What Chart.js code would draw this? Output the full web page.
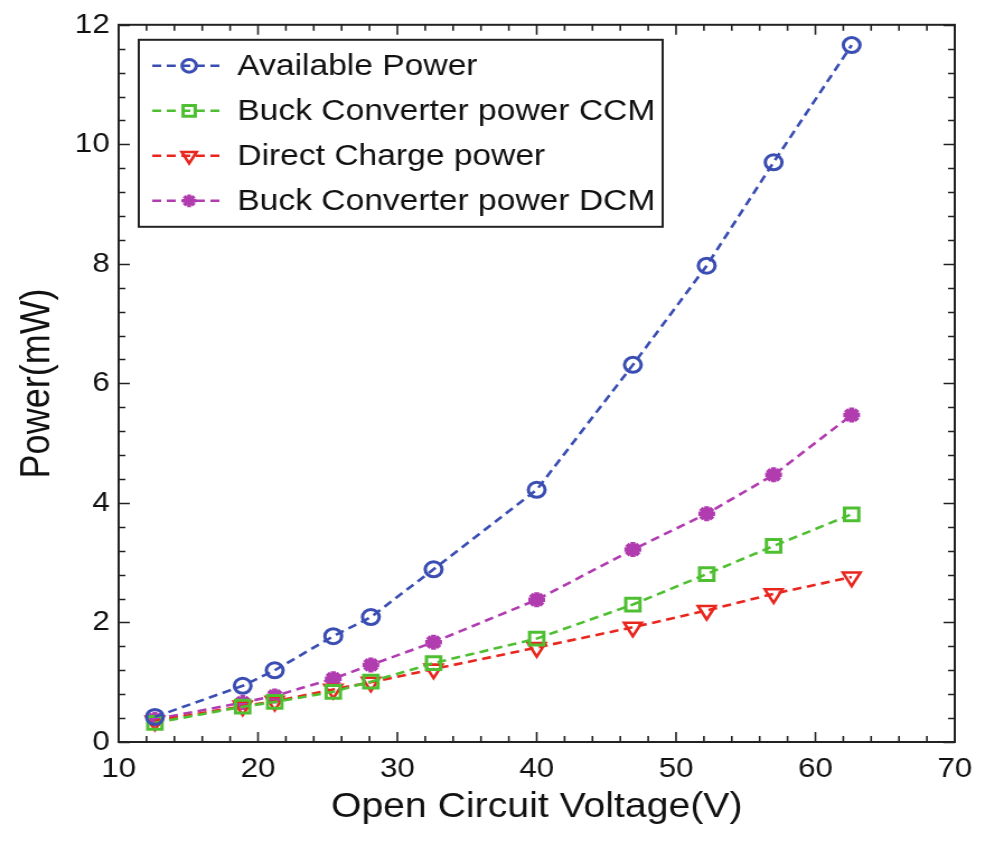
<!DOCTYPE html>
<html>
<head>
<meta charset="utf-8">
<script src="https://cdn.jsdelivr.net/npm/chart.js@4.4.1/dist/chart.umd.min.js"></script>
<style>
  html, body { margin: 0; padding: 0; background: #fff; overflow: hidden; }
  /* the original figure is a little wider than tall-drawn, so stretch horizontally */
  #wrap { width: 880px; height: 849px; position: relative; transform: scaleX(1.1193); transform-origin: 0 0; }
</style>
</head>
<body>
<div id="wrap"><canvas id="powerChart"></canvas></div>
<script>
// values
const voltage = [12.6, 18.9, 21.2, 25.4, 28.1, 32.6, 40.0, 46.9, 52.2, 57.0, 62.6];
const availablePower = [0.42, 0.94, 1.20, 1.77, 2.09, 2.89, 4.22, 6.31, 7.97, 9.70, 11.66];
const buckCCM = [0.32, 0.59, 0.67, 0.84, 1.01, 1.32, 1.73, 2.30, 2.81, 3.28, 3.81];
const directCharge = [0.35, 0.60, 0.68, 0.88, 1.00, 1.22, 1.58, 1.92, 2.20, 2.48, 2.76];
const buckDCM = [0.38, 0.66, 0.77, 1.06, 1.29, 1.67, 2.38, 3.22, 3.82, 4.47, 5.47];
const seriesLabels = ['Available Power', 'Buck Converter power CCM', 'Direct Charge power', 'Buck Converter power DCM'];
const xTicks = [10, 20, 30, 40, 50, 60, 70];
const yTicks = [0, 2, 4, 6, 8, 10, 12];

const FONT = 'Arial, "Liberation Sans", Helvetica, sans-serif';

let toPoints = (ys) => voltage.map((v, i) => ({ x: v, y: ys[i] }));

let makeSet = (label, ys, color, style, extra) => Object.assign({
    label: label,
    data: toPoints(ys),
    borderColor: color,
    backgroundColor: 'rgba(0,0,0,0)',
    pointBorderColor: color,
    pointBackgroundColor: 'rgba(255,255,255,0)',
    borderWidth: 2.6,
    borderDash: [8, 5],
    pointStyle: style,
    pointRadius: 7.5,
    pointBorderWidth: 3,
    fill: false,
    tension: 0
}, extra || {});

const datasets = [
    makeSet(seriesLabels[0], availablePower, '#3a4db2', 'circle'),
    makeSet(seriesLabels[1], buckCCM, '#4fbf32', 'rect', { pointRadius: 9 }),
    makeSet(seriesLabels[2], directCharge, '#e8261e', 'triangle', { pointRotation: 180, pointRadius: 9, pointBorderWidth: 2.6 }),
    makeSet(seriesLabels[3], buckDCM, '#b03cb0', 'star', { pointRadius: 7.5, pointBorderWidth: 4.5 })
];

// inward ticks on all four sides, plus the top and right frame lines
const frameTicks = {
    id: 'frameTicks',
    afterDatasetsDraw(chart) {
        const c = chart.ctx, a = chart.chartArea;
        const xs = chart.scales.x, ys = chart.scales.y;
        c.save();
        c.strokeStyle = '#222';
        c.lineWidth = 2;
        c.strokeRect(a.left, a.top, a.right - a.left, a.bottom - a.top);
        c.lineWidth = 1.6;
        for (let v = 10; v <= 70.001; v += 2) {
            const px = xs.getPixelForValue(v);
            const len = Math.abs(v % 10) < 0.01 ? 10 : 6;
            c.beginPath();
            c.moveTo(px, a.bottom); c.lineTo(px, a.bottom - len);
            c.moveTo(px, a.top); c.lineTo(px, a.top + len);
            c.stroke();
        }
        for (let i = 0; i <= 30; i++) {
            const py = Math.round(ys.getPixelForValue(i * 0.4)) + 0.5;
            const len = i % 5 === 0 ? 10 : 6;
            c.beginPath();
            c.moveTo(a.left, py); c.lineTo(a.left + len, py);
            c.moveTo(a.right, py); c.lineTo(a.right - len, py);
            c.stroke();
        }
        c.restore();
    }
};

// boxed legend inside the plot, top left
const boxLegend = {
    id: 'boxLegend',
    afterDraw(chart) {
        const c = chart.ctx, a = chart.chartArea;
        const bx = a.left + 18, by = a.top + 15, bw = 468, bh = 187;
        c.save();
        c.fillStyle = '#fff';
        c.fillRect(bx, by, bw, bh);
        c.strokeStyle = '#222';
        c.lineWidth = 2;
        c.strokeRect(bx, by, bw, bh);
        c.font = '30px ' + FONT;
        c.textBaseline = 'middle';
        chart.data.datasets.forEach((ds, i) => {
            const y = by + 26 + i * 45;
            c.strokeStyle = ds.borderColor;
            c.lineWidth = ds.borderWidth;
            c.setLineDash(ds.borderDash);
            c.beginPath();
            c.moveTo(bx + 12, y); c.lineTo(bx + 74, y);
            c.stroke();
            c.setLineDash([]);
            c.fillStyle = 'rgba(0,0,0,0)';
            c.lineWidth = Math.min(ds.pointBorderWidth, 3.5);
            Chart.helpers.drawPoint(c, {
                pointStyle: ds.pointStyle,
                rotation: ds.pointRotation || 0,
                radius: ds.pointRadius * 0.85,
                borderWidth: c.lineWidth
            }, bx + 45, y);
            c.fillStyle = '#111';
            c.fillText(ds.label, bx + 88, y + 1);
        });
        c.restore();
    }
};

const ctx = document.getElementById('powerChart').getContext('2d');
const powerChart = new Chart(ctx, {
    type: 'line',
    data: { datasets: datasets },
    plugins: [frameTicks, boxLegend],
    options: {
        responsive: true,
        maintainAspectRatio: false,
        animation: false,
        layout: { padding: { left: 0, right: 27, top: 24, bottom: 0 } },
        plugins: {
            legend: { display: false },
            tooltip: { enabled: false }
        },
        scales: {
            x: {
                type: 'linear',
                min: 10, max: 70,
                afterBuildTicks: (s) => { s.ticks = xTicks.map(v => ({ value: v })); },
                afterFit: (s) => { s.height = 107; },
                grid: { display: false, drawTicks: false },
                border: { display: false },
                ticks: { color: '#111', font: { family: FONT, size: 28 }, padding: 10, maxRotation: 0 },
                title: { display: true, text: 'Open Circuit Voltage(V)', color: '#111', font: { family: FONT, size: 35 }, padding: { top: 0, bottom: 21 } }
            },
            y: {
                type: 'linear',
                min: 0, max: 12,
                afterBuildTicks: (s) => { s.ticks = yTicks.map(v => ({ value: v })); },
                afterFit: (s) => { s.width = 106; },
                grid: { display: false, drawTicks: false },
                border: { display: false },
                ticks: { color: '#111', font: { family: FONT, size: 28 }, padding: 8 },
                title: { display: true, text: 'Power(mW)', color: '#111', font: { family: FONT, size: 36 }, padding: { top: 12, bottom: 0 } }
            }
        }
    }
});
</script>
</body>
</html>
